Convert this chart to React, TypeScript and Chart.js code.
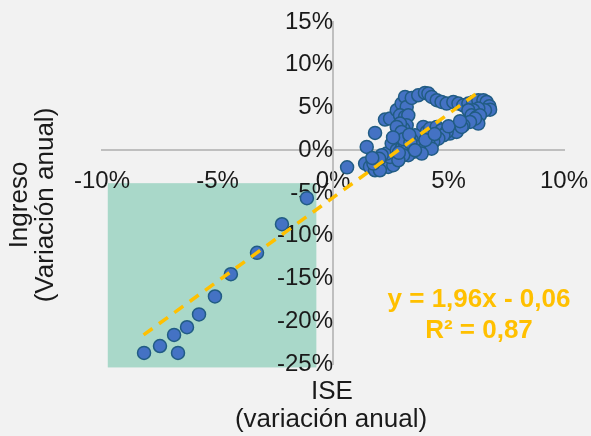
import React, { useEffect, useRef } from 'react';
import { Chart, registerables } from 'chart.js';

Chart.register(...registerables);

// Axis ranges / ticks (percent)
const xTickValues = [-10, -5, 0, 5, 10];
const yTickValues = [-25, -20, -15, -10, -5, 0, 5, 10, 15];

// ISE annual variation (%)
const iseX = [
  -8.18, -7.49, -6.71, -6.88, -6.32, -5.8, -5.11, -4.42, -3.29, -2.21, -1.13, 0.61,
  1.82, 2.25, 2.47, 2.76, 2.97, 3.12, 3.19, 2.9, 3.12, 3.26, 3.19, 3.04, 2.9, 2.76, 2.97,
  3.41, 3.69, 3.98, 4.13, 4.27, 4.49, 4.7, 4.92, 5.21, 5.43, 5.64, 5.86, 6.07, 6.29, 6.51,
  6.65, 6.77, 6.8, 6.58, 6.29, 6.07, 5.86, 6.0, 6.22, 6.36,
  6.29, 6.15, 5.93, 5.64, 5.43, 5.21, 5.06, 5.35, 5.57,
  3.91, 4.06, 4.2, 4.49, 4.7, 4.92, 4.78, 4.56, 4.34, 4.13, 3.91, 3.69, 3.55, 3.41, 3.33,
  3.48, 3.26, 3.69, 3.98, 4.27, 3.84,
  1.46, 1.39, 1.6, 1.82, 1.96, 2.11, 2.25, 2.39, 2.61, 2.47, 2.32, 2.54, 2.76, 2.97, 3.12,
  3.04, 2.83, 2.03, 1.75, 2.11,
  3.05, 3.35, 3.55, 2.6, 2.85, 4.0, 4.4, 5.0, 5.5, 3.3, 2.0, 1.7,
];

// Ingreso annual variation (%)
const ingresoY = [
  -23.7, -22.9, -23.7, -21.6, -20.7, -19.2, -17.1, -14.5, -12.0, -8.65, -5.6, -2.0,
  2.03, 3.59, 3.7, 4.68, 5.46, 6.24, 5.07, 4.09, 3.9, 4.09, 2.92, 2.53, 3.12, 2.73, 2.14,
  6.12, 6.43, 6.71, 6.63, 6.24, 5.85, 5.65, 5.46, 5.65, 5.46, 5.26, 5.46, 5.65, 5.85, 5.85,
  5.65, 5.15, 4.75, 4.68, 4.87, 4.68, 4.68, 4.09, 3.9, 4.09,
  3.12, 3.7, 3.31, 2.92, 2.53, 2.34, 1.95, 2.14, 2.73,
  2.73, 2.14, 2.53, 2.73, 2.34, 2.14, 1.75, 1.36, 0.97, 0.78, 0.97, 1.36, 1.75, 1.17, 0.39,
  -0.19, -0.58, 0.39, 0.19, 0.19, -0.39,
  0.39, -1.56, -1.95, -2.34, -1.75, -1.36, -0.97, -1.95, -1.75, -0.78, -0.39, 0.78, 0, 0.19, 0.78,
  -0.58, -1.17, -2.34, -1.56, -0.58,
  1.3, 0.9, 0.0, 1.5, -0.3, 1.2, 1.9, 2.8, 3.4, 1.8, -1.0, -0.9,
];

// Linear trend endpoints
const trendX = [-8.2, 6.4];
const trendY = [-21.6, 7.0];

// Shaded region (data coords)
const shadeX = [-9.75, -0.72];
const shadeY = [-25.4, -3.85];

const yTitleLines = ['Ingreso', '(Variación anual)'];
const xTitleLines = ['ISE', '(variación anual)'];
const equationLines = ['y = 1,96x - 0,06', 'R² = 0,87'];

const FONT = '"Liberation Sans", Arial, sans-serif';

const zeroPad = (s: any) => {
  s.paddingTop = 0;
  s.paddingBottom = 0;
  s.paddingLeft = 0;
  s.paddingRight = 0;
};

export default function App() {
  const ref = useRef<HTMLCanvasElement | null>(null);

  useEffect(() => {
    document.body.style.margin = '0';
    document.body.style.background = '#F2F2F2';
    const canvas = ref.current;
    if (!canvas) return;

    const scatterData = iseX.map((x, i) => ({ x, y: ingresoY[i] }));
    const trendData = trendX.map((x, i) => ({ x, y: trendY[i] }));

    const decor = {
      id: 'decor',
      beforeDraw(chart: any) {
        const { ctx, scales } = chart;
        ctx.save();
        ctx.fillStyle = '#F2F2F2';
        ctx.fillRect(0, 0, chart.width, chart.height);
        const x0 = scales.x.getPixelForValue(shadeX[0]);
        const x1 = scales.x.getPixelForValue(shadeX[1]);
        const y0 = scales.y.getPixelForValue(shadeY[1]);
        const y1 = scales.y.getPixelForValue(shadeY[0]);
        ctx.fillStyle = '#A9D8C9';
        ctx.fillRect(x0, y0, x1 - x0, y1 - y0);
        ctx.restore();
      },
      afterDraw(chart: any) {
        const { ctx } = chart;
        ctx.save();
        ctx.fillStyle = '#1A1A1A';
        ctx.font = `26px ${FONT}`;
        ctx.textAlign = 'center';
        ctx.textBaseline = 'middle';
        // y title (rotated)
        ctx.save();
        ctx.translate(0, 205);
        ctx.rotate(-Math.PI / 2);
        ctx.fillText(yTitleLines[0], 0, 20);
        ctx.fillText(yTitleLines[1], 0, 46);
        ctx.restore();
        // x title
        ctx.fillText(xTitleLines[0], 332, 392);
        ctx.fillText(xTitleLines[1], 331, 420);
        // equation
        ctx.fillStyle = '#FFC000';
        ctx.font = `bold 26px ${FONT}`;
        ctx.fillText(equationLines[0], 479, 300);
        ctx.fillText(equationLines[1], 479, 331);
        ctx.restore();
      },
    };

    const chart = new Chart(canvas, {
      type: 'scatter',
      data: {
        datasets: [
          {
            label: 'Tendencia',
            data: trendData,
            showLine: true,
            borderColor: '#FFC000',
            borderWidth: 3.5,
            borderDash: [11, 8],
            pointRadius: 0,
            fill: false,
          } as any,
          {
            label: 'Datos',
            data: scatterData,
            backgroundColor: '#4472C4',
            borderColor: '#215C84',
            borderWidth: 1.5,
            pointRadius: 6.5,
          },
        ],
      },
      options: {
        responsive: false,
        animation: false,
        layout: { padding: { left: 102, right: 27, top: 22, bottom: 72 } },
        plugins: { legend: { display: false }, tooltip: { enabled: false } },
        scales: {
          x: {
            type: 'linear',
            position: { y: 0 } as any,
            min: -10,
            max: 10,
            afterBuildTicks: (s: any) => { s.ticks = xTickValues.map((v) => ({ value: v })); },
            afterFit: zeroPad,
            grid: { display: false, drawTicks: false },
            border: { display: true, color: '#BFBFBF', width: 2 },
            ticks: {
              padding: 17,
              maxRotation: 0,
              autoSkip: false,
              color: '#1A1A1A',
              font: { family: FONT, size: 24 },
              callback: (v: any) => `${v}%`,
            },
          },
          y: {
            type: 'linear',
            position: { x: 0 } as any,
            min: -25,
            max: 15,
            afterBuildTicks: (s: any) => { s.ticks = yTickValues.map((v) => ({ value: v })); },
            afterFit: zeroPad,
            grid: { display: false, drawTicks: false },
            border: { display: true, color: '#BFBFBF', width: 2 },
            ticks: {
              padding: 22,
              autoSkip: false,
              color: '#1A1A1A',
              font: { family: FONT, size: 24 },
              callback: (v: any) => `${v}%`,
            },
          },
        },
      },
      plugins: [decor],
    });

    return () => chart.destroy();
  }, []);

  return (
    <div style={{ position: 'fixed', left: 0, top: 0, width: 591, height: 436 }}>
      <canvas ref={ref} width={591} height={436} />
    </div>
  );
}
